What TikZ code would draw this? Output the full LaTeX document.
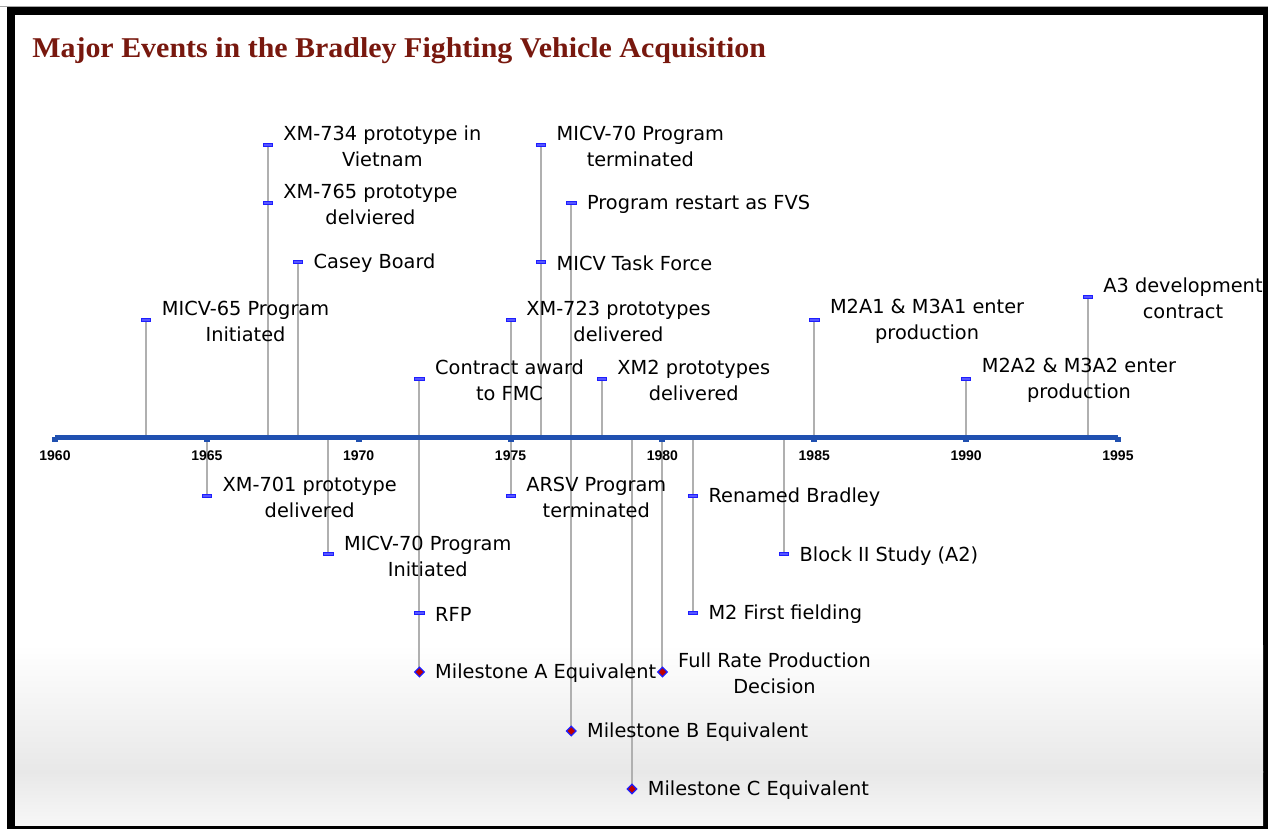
\documentclass[tikz,border=0pt]{standalone}
\usepackage{fontspec}
\setmainfont{DejaVu Sans}
\newfontfamily\titlefont{Liberation Serif}
\newfontfamily\axisfont{Liberation Sans}
\usetikzlibrary{shapes.geometric}
\definecolor{titlered}{RGB}{120,24,14}
\definecolor{axisblue}{RGB}{32,80,176}
\definecolor{stemgray}{RGB}{176,176,176}
\definecolor{mkblue}{RGB}{30,30,255}
\definecolor{mkred}{RGB}{190,0,0}
\newcommand{\yx}[1]{55+(#1-1960)*30.371}
\tikzset{
  evlabel/.style={anchor=west, align=center, inner sep=0pt, font=\fontsize{14.5}{19.5}\selectfont},
  stem/.style={draw=stemgray, line width=1.5pt},
  dashmk/.style={rectangle, draw=mkblue, fill=mkblue!75, line width=0.6pt, minimum width=7pt, minimum height=2.2pt, inner sep=0pt},
  diamk/.style={diamond, draw=mkblue, fill=mkred, line width=0.9pt, minimum width=7.5pt, minimum height=7.5pt, inner sep=0pt},
  yearlbl/.style={font=\axisfont\bfseries\fontsize{10.5}{12}\selectfont, inner sep=0pt, anchor=base},
  tickmk/.style={fill=axisblue}
}
\begin{document}
\begin{tikzpicture}[x=0.75pt,y=-0.75pt]
\useasboundingbox (0,0) rectangle (1268,829);
\fill[white] (0,0) rectangle (1268,829);
\draw[gray!70, line width=0.75pt] (0,6) -- (1268,6);
\fill[black] (7,7) rectangle (1268,829);
\fill[white] (15,15) rectangle (1263,825);
\shade[top color=white, bottom color=black!9] (15,645) rectangle (1263,772);
\shade[top color=black!9, bottom color=black!3] (15,771.5) rectangle (1263,825);
\node[anchor=base west, inner sep=0pt, text=titlered, font=\titlefont\bfseries\fontsize{21.5}{24}\selectfont] (title) at (32,57) {\scalebox{1.045}[1]{Major Events in the Bradley Fighting Vehicle Acquisition}};

% events: \ev{name}{year}{marker y}{label y}{text}{marker style}
\newcommand{\ev}[6]{%
  \coordinate (a#1) at ({\yx{#2}},437);
  \node[#6] (m#1) at ({\yx{#2}},#3) {};
  \node[evlabel] (l#1) at ({\yx{#2}+15.5},#4) {#5};
}
% stems first
\foreach \yr/\yy in {1963/320,1967/145,1968/262,1972/379,1975/320,1976/145,1977/203,1978/379,1985/320,1990/379,1994/297,
                     1965/496,1969/554,1972/672,1975/496,1977/731,1979/789,1980/672,1981/613,1984/554}{
  \coordinate (s\yr\yy) at ({\yx{\yr}},437);
  \coordinate (t\yr\yy) at ({\yx{\yr}},\yy);
  \draw[stem] (s\yr\yy) -- (t\yr\yy);
}
% axis
\coordinate (ax0) at (55,437);
\coordinate (ax1) at (1118,437);
\draw[axisblue, line width=3.75pt] (ax0) -- (ax1);
\foreach \y in {1960,1965,...,1995}{
  \fill[tickmk] ({\yx{\y}-3},437) rectangle ({\yx{\y}+3},442);
  \node[yearlbl] (y\y) at ({\yx{\y}},460) {\y};
}
% above
\ev{1}{1963}{320}{321}{MICV-65 Program\\Initiated}{dashmk}
\ev{2}{1967}{145}{146}{XM-734 prototype in\\Vietnam}{dashmk}
\ev{3}{1967}{203}{204}{XM-765 prototype\\delviered}{dashmk}
\ev{4}{1968}{262}{263}{Casey Board}{dashmk}
\ev{5}{1972}{379}{380}{Contract award\\to FMC}{dashmk}
\ev{6}{1975}{320}{321}{XM-723 prototypes\\delivered}{dashmk}
\ev{7}{1976}{145}{146}{MICV-70 Program\\terminated}{dashmk}
\ev{8}{1976}{262}{263}{MICV Task Force}{dashmk}
\ev{9}{1977}{203}{204}{Program restart as FVS}{dashmk}
\ev{10}{1978}{379}{380}{XM2 prototypes\\delivered}{dashmk}
\ev{11}{1985}{320}{321}{M2A1 \& M3A1 enter\\production}{dashmk}
\ev{12}{1990}{379}{380}{M2A2 \& M3A2 enter\\production}{dashmk}
\ev{13}{1994}{297}{298}{A3 development\\contract}{dashmk}
% below
\ev{14}{1965}{496}{497}{XM-701 prototype\\delivered}{dashmk}
\ev{15}{1969}{554}{556}{MICV-70 Program\\Initiated}{dashmk}
\ev{16}{1972}{613}{614}{RFP}{dashmk}
\ev{17}{1972}{672}{673}{Milestone A Equivalent}{diamk}
\ev{18}{1975}{496}{497}{ARSV Program\\terminated}{dashmk}
\ev{19}{1977}{731}{732}{Milestone B Equivalent}{diamk}
\ev{20}{1979}{789}{790}{Milestone C Equivalent}{diamk}
\ev{21}{1980}{672}{673}{Full Rate Production\\Decision}{diamk}
\ev{22}{1981}{496}{497}{Renamed Bradley}{dashmk}
\ev{23}{1981}{613}{614}{M2 First fielding}{dashmk}
\ev{24}{1984}{554}{556}{Block II Study (A2)}{dashmk}
\end{tikzpicture}
\end{document}
